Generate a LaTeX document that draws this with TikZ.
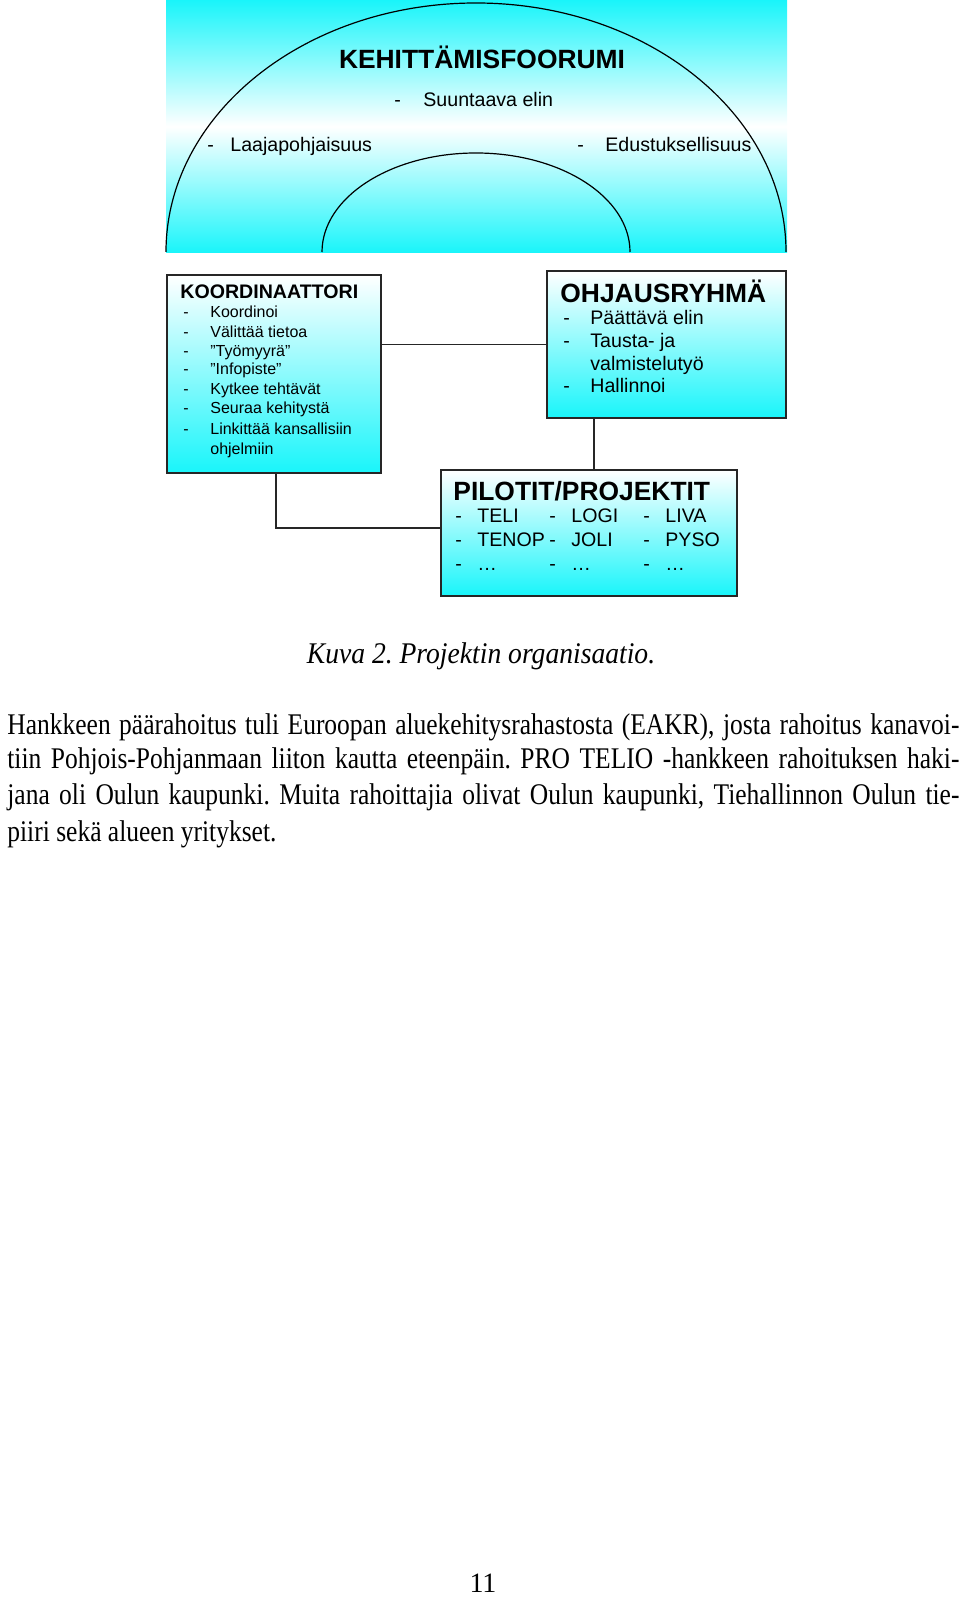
\documentclass[tikz,border=0pt]{standalone}
\usepackage{fontspec}
\setmainfont{Liberation Serif}
\setsansfont{Liberation Sans}
\usepackage{graphicx}
\frenchspacing
\definecolor{aqua}{RGB}{25,245,250}
\tikzset{
  box/.style={draw=black!85,line width=0.8pt,top color=white,bottom color=aqua,inner sep=0pt},
  txt/.style={anchor=base west,inner sep=0pt},
  conn/.style={draw=black!85,line width=0.8pt},
}
\newcommand{\bigsf}{\sffamily\bfseries\fontsize{13.2}{15}\selectfont}
\newcommand{\headsf}{\sffamily\bfseries\fontsize{9.8}{11}\selectfont}
\newcommand{\midsf}{\sffamily\fontsize{9.8}{11}\selectfont}
\newcommand{\smallsf}{\sffamily\fontsize{8}{9.5}\selectfont}
\newcommand{\bodyrm}{\rmfamily\fontsize{15}{18}\selectfont}
\newcommand{\fullline}[1]{\scalebox{0.85}[1]{\makebox[560pt][s]{#1}}}

\begin{document}
\begin{tikzpicture}[x=0.5pt,y=-0.5pt]
  \useasboundingbox (0,0) rectangle (960,1598);
  \shade[top color=aqua,bottom color=aqua,middle color=white] (166,0) rectangle (787,253);
  \draw[line width=0.6pt] (166,252) arc[start angle=180,end angle=360,x radius=310,y radius=249];
  \draw[line width=0.6pt] (322,252) arc[start angle=180,end angle=360,x radius=154,y radius=99];

  \node[anchor=base] (forum) at (482,69) {\bigsf KEHITTÄMISFOORUMI};
  \node[txt] (fd1) at (394,107) {\midsf -};
  \node[txt] (ft1) at (423,107) {\midsf Suuntaava elin};
  \node[txt] (fd2) at (207,152) {\midsf -};
  \node[txt] (ft2) at (230,152) {\midsf Laajapohjaisuus};
  \node[txt] (fd3) at (577,152) {\midsf -};
  \node[txt] (ft3) at (605,152) {\midsf Edustuksellisuus};

  \node[box,minimum width=107pt,minimum height=99pt] (koord) at (274,374) {};
  \node[box,minimum width=119.5pt,minimum height=73.5pt] (ohjaus) at (666.5,344.5) {};
  \node[box,minimum width=148pt,minimum height=63pt] (pilot) at (589,533) {};

  \node[txt] (ktitle) at (180,299) {\headsf KOORDINAATTORI};
  \foreach \y/\t [count=\i] in {318/Koordinoi,338/Välittää tietoa,357/”Työmyyrä”,375/”Infopiste”,395/Kytkee tehtävät,414/Seuraa kehitystä,435/Linkittää kansallisiin} {
      \node[txt] (kd\i) at (183,\y) {\smallsf -};
      \node[txt] (kt\i) at (210,\y) {\smallsf \t};
    }
  \node[txt] (kt8) at (210,455) {\smallsf ohjelmiin};

  \node[txt] (otitle) at (560,303) {\bigsf OHJAUSRYHMÄ};
  \foreach \y/\t [count=\i] in {325/Päättävä elin,347.5/Tausta- ja,393/Hallinnoi} {
      \node[txt] (od\i) at (563,\y) {\midsf -};
      \node[txt] (ot\i) at (590,\y) {\midsf \t};
    }
  \node[txt] (ot4) at (590,370.5) {\midsf valmistelutyö};

  \node[txt] (ptitle) at (453,501) {\bigsf PILOTIT/PROJEKTIT};
  \foreach \x/\a/\b/\c [count=\i] in {455/TELI/TENOP/…,549/LOGI/JOLI/…,643/LIVA/PYSO/…} {
      \node[txt] (pa\i) at (\x,523) {\midsf -};
      \node[txt] (pb\i) at (\x,546) {\midsf -};
      \node[txt] (pc\i) at (\x,570) {\midsf -};
      \node[txt] (qa\i) at (\x+22,523) {\midsf \a};
      \node[txt] (qb\i) at (\x+22,546) {\midsf \b};
      \node[txt] (qc\i) at (\x+22,570) {\midsf \c};
    }

  \draw[conn] (ohjaus.west) -- (ohjaus.west -| koord.east);
  \draw[conn] ([xshift=24pt]ohjaus.south west) -- ([xshift=24pt]ohjaus.south west |- pilot.north);
  \draw[conn] ([xshift=55pt]koord.south west) |- ([yshift=2.5pt]pilot.west);

  \node[anchor=base] (cap) at (481,663) {\bodyrm\scalebox{0.92}[1]{\itshape Kuva 2. Projektin organisaatio.}};
  \node[txt] (l1) at (7,734) {\bodyrm\fullline{Hankkeen päärahoitus tuli Euroopan aluekehitysrahastosta (EAKR), josta rahoitus kanavoi-}};
  \node[txt] (l2) at (7,768.5) {\bodyrm\fullline{tiin Pohjois-Pohjanmaan liiton kautta eteenpäin. PRO TELIO -hankkeen rahoituksen haki-}};
  \node[txt] (l3) at (7,804) {\bodyrm\fullline{jana oli Oulun kaupunki. Muita rahoittajia olivat Oulun kaupunki, Tiehallinnon Oulun tie-}};
  \node[txt] (l4) at (7,841) {\bodyrm\scalebox{0.85}[1]{piiri sekä alueen yritykset.}};
  \node[anchor=base] (pnum) at (483,1592) {\rmfamily\fontsize{14}{16}\selectfont 11};
\end{tikzpicture}
\end{document}
